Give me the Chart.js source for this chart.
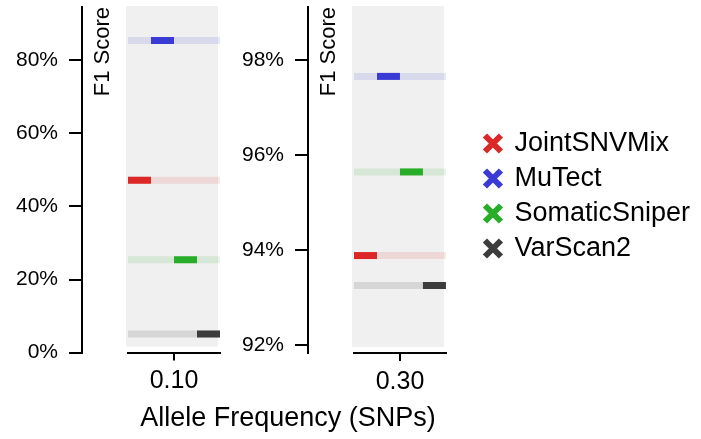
<!DOCTYPE html>
<html>
<head>
<meta charset="utf-8">
<script src="https://cdn.jsdelivr.net/npm/chart.js@4/dist/chart.umd.min.js"></script>
<style>
  body { margin: 0; background: #fff; }
  #wrap { position: relative; width: 701px; height: 439px; overflow: hidden; }
  .panel { position: absolute; top: 0; height: 439px; }
  #leftBox { left: 0; width: 576px; }
  #rightBox { left: 230px; width: 471px; }
</style>
</head>
<body>
<div id="wrap">
  <div class="panel" id="leftBox"><canvas id="leftChart"></canvas></div>
  <div class="panel" id="rightBox"><canvas id="rightChart"></canvas></div>
</div>
<script>
// Series and their colours
const seriesNames = ['JointSNVMix', 'MuTect', 'SomaticSniper', 'VarScan2'];
const seriesColors = ['#dc2727', '#3a3ad4', '#28ad28', '#3c3c3c'];
const seriesLight = ['rgba(220,39,39,0.12)', 'rgba(58,58,212,0.12)', 'rgba(40,173,40,0.12)', 'rgba(60,60,60,0.14)'];

// Allele frequency panels
const panelLabels = ['0.10', '0.30'];

// F1 scores, same order as seriesNames
const f1Low = [0.472, 0.854, 0.254, 0.051];
const f1High = [0.9389, 0.9766, 0.9565, 0.9326];

// y axis ranges and tick values
const yRangeLow = [0, 0.946];
const yRangeHigh = [0.9184, 0.9912];
const yTicksLow = [0, 0.2, 0.4, 0.6, 0.8];
const yTicksHigh = [0.92, 0.94, 0.96, 0.98];

Chart.defaults.font.family = '"Liberation Sans", Arial, Helvetica, sans-serif';
Chart.defaults.color = '#000';

const slots = seriesNames.length;

// light background band for each plot area
const panelBg = {
    id: 'panelBg',
    beforeDatasetsDraw(chart) {
        const a = chart.chartArea;
        const ctx = chart.ctx;
        ctx.save();
        ctx.fillStyle = '#f0f0f0';
        ctx.fillRect(a.left - 2, a.top - 1, a.right - a.left, a.bottom - a.top - 5);
        ctx.restore();
    }
};

function buildDatasets(values) {
    const sets = [];
    values.forEach((v, i) => {
        // short dark mark in the series' own slot
        sets.push({
            data: [{ x: i, y: v }, { x: i + 1, y: v }],
            borderColor: seriesColors[i],
            borderWidth: 7,
            borderCapStyle: 'butt',
            pointRadius: 0,
            order: 0
        });
        // faint band across the whole panel
        sets.push({
            data: [{ x: 0, y: v }, { x: slots, y: v }],
            borderColor: seriesLight[i],
            borderWidth: 7,
            borderCapStyle: 'butt',
            pointRadius: 0,
            order: 1
        });
    });
    return sets;
}

function pct(v) {
    return Math.round(v * 100) + '%';
}

// empty axis used only to reserve horizontal room
function spacer(position, width) {
    return {
        type: 'linear',
        position: position,
        grid: { display: false },
        border: { display: false },
        ticks: { display: false },
        afterFit: axis => { axis.width = width; }
    };
}

function panelOptions(label, range, ticks, axisWidth) {
    return {
        responsive: true,
        maintainAspectRatio: false,
        animation: false,
        plugins: {
            legend: { display: false },
            tooltip: { enabled: false }
        },
        scales: {
            x: {
                type: 'linear',
                min: 0,
                max: slots,
                afterBuildTicks: axis => { axis.ticks = [{ value: slots / 2 }]; },
                ticks: { callback: () => label, font: { size: 25 }, padding: 6, color: '#000' },
                grid: { drawOnChartArea: false, tickLength: 8, color: '#000', lineWidth: 2 },
                border: { color: '#000', width: 2 }
            },
            y: {
                type: 'linear',
                position: 'left',
                weight: 2,
                min: range[0],
                max: range[1],
                afterBuildTicks: axis => { axis.ticks = ticks.map(v => ({ value: v })); },
                afterFit: axis => {
                    axis.width = axisWidth;
                    axis.paddingTop = 0;
                    axis.paddingBottom = 0;
                },
                ticks: { callback: pct, font: { size: 21 }, padding: 11, color: '#000' },
                grid: { drawOnChartArea: false, tickLength: 13, color: '#000', lineWidth: 2 },
                border: { color: '#000', width: 2 }
            },
            yTitle: {
                type: 'linear',
                position: 'left',
                weight: 1,
                grid: { display: false },
                border: { display: false },
                ticks: { display: false },
                title: {
                    display: true,
                    text: 'F1 Score',
                    align: 'end',
                    font: { size: 22 },
                    color: '#000',
                    padding: { top: 8, bottom: 0 }
                },
                afterFit: axis => { axis.width = 46; }
            }
        }
    };
}

function createLeftChart() {
    const opts = panelOptions(panelLabels[0], yRangeLow, yTicksLow, 82);
    opts.layout = { padding: { left: 0, right: 0, top: 7, bottom: 0 } };
    opts.scales.spacer = spacer('right', 356);
    opts.plugins.title = {
        display: true,
        position: 'bottom',
        text: 'Allele Frequency (SNPs)',
        font: { size: 27, weight: 'normal' },
        color: '#000',
        padding: { top: 0, bottom: 4 }
    };
    new Chart(document.getElementById('leftChart'), {
        type: 'line',
        data: { datasets: buildDatasets(f1Low) },
        options: opts,
        plugins: [panelBg]
    });
}

function createRightChart() {
    const opts = panelOptions(panelLabels[1], yRangeHigh, yTicksHigh, 78);
    opts.layout = { padding: { left: 0, right: 1, top: 7, bottom: 36 } };
    opts.scales.spacer = spacer('right', 31);
    opts.plugins.legend = {
        display: true,
        position: 'right',
        align: 'center',
        fullSize: false,
        maxWidth: 260,
        title: { display: true, text: '', font: { size: 10 }, padding: 10 },
        labels: {
            usePointStyle: true,
            boxWidth: 16,
            boxHeight: 16,
            padding: 8,
            font: { size: 27 },
            color: '#000',
            generateLabels: () => seriesNames.map((name, i) => ({
                text: name,
                pointStyle: 'crossRot',
                fillStyle: seriesColors[i],
                strokeStyle: seriesColors[i],
                lineWidth: 6,
                fontColor: '#000',
                hidden: false
            }))
        }
    };
    new Chart(document.getElementById('rightChart'), {
        type: 'line',
        data: { datasets: buildDatasets(f1High) },
        options: opts,
        plugins: [panelBg]
    });
}

window.onload = function () {
    createLeftChart();
    createRightChart();
};
</script>
</body>
</html>
